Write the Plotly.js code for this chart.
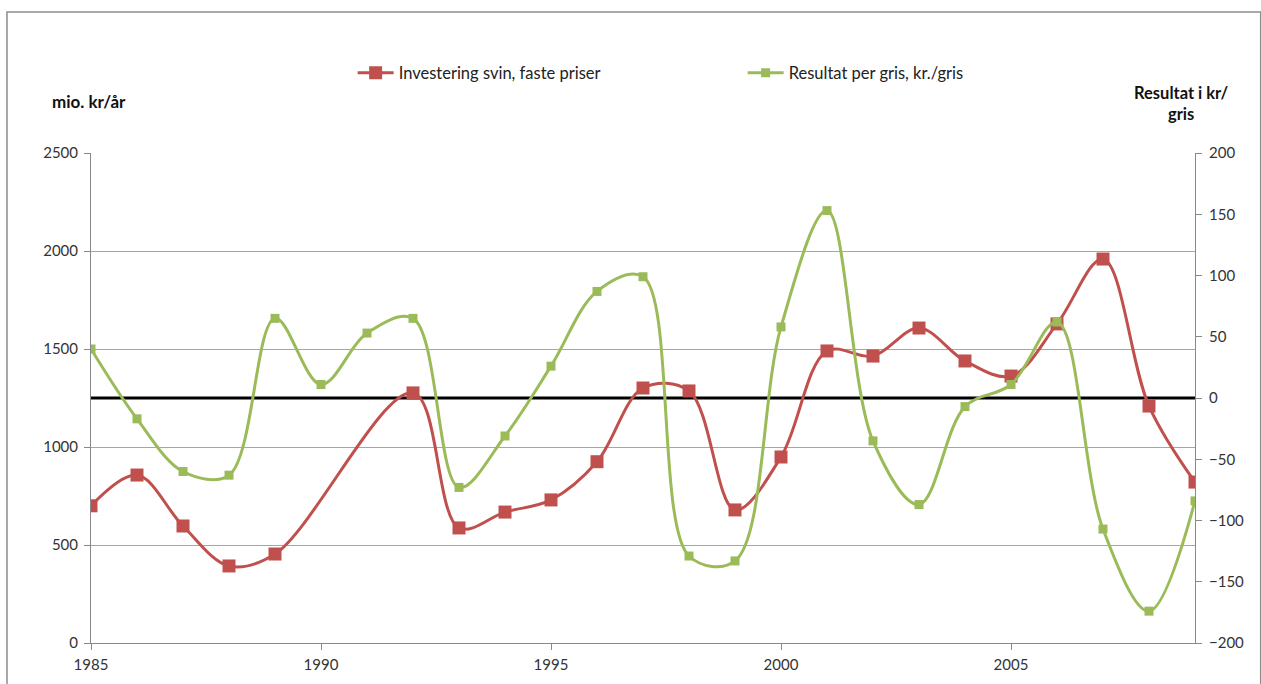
<!DOCTYPE html>
<html>
<head>
<meta charset="utf-8">
<script src="https://cdn.plot.ly/plotly-3.0.1.min.js"></script>
<style>html,body{margin:0;padding:0;background:#fff;}#chart{width:1261px;height:684px;}</style>
</head>
<body>
<div id="chart"></div>
<script>
const years = [1985,1986,1987,1988,1989,1990,1991,1992,1993,1994,1995,1996,1997,1998,1999,2000,2001,2002,2003,2004,2005,2006,2007,2008,2009];
const investering = [700,857,597,393,454,null,null,1276,587,668,730,925,1301,1286,679,949,1490,1464,1607,1439,1362,1628,1959,1209,821];
const resultat = [40,-17,-60,-63,65,11,53,65,-73,-31,26,87,99,-129,-133,58,153,-35,-87,-7,11,62,-107,-174,-84];
const xTicks = [1985,1990,1995,2000,2005];
const leftTicks = [0,500,1000,1500,2000,2500];
const rightTicks = [-200,-150,-100,-50,0,50,100,150,200];
const nameRed = "Investering svin, faste priser";
const nameGreen = "Resultat per gris, kr./gris";
const leftTitle = "mio. kr/år";
const rightTitle = "Resultat i kr/<br>gris";

const FONT = "Lato, 'Open Sans', sans-serif";
const traces = [
  {x: years, y: investering, name: nameRed, type: 'scatter', mode: 'lines+markers',
   connectgaps: true, line: {color: '#c0504d', width: 3, shape: 'spline', smoothing: 1},
   marker: {symbol: 'square', size: 13, color: '#c0504d'}, yaxis: 'y'},
  {x: years, y: resultat, name: nameGreen, type: 'scatter', mode: 'lines+markers',
   line: {color: '#9bbb59', width: 3, shape: 'spline', smoothing: 1},
   marker: {symbol: 'square', size: 9, color: '#9bbb59'}, yaxis: 'y2'}
];
const layout = {
  width: 1261, height: 684,
  margin: {l: 91, r: 66, t: 153, b: 41},
  paper_bgcolor: '#fff', plot_bgcolor: '#fff',
  font: {family: FONT, size: 15, color: '#333'},
  showlegend: true,
  legend: {orientation: 'h', x: 0.237, xanchor: 'left', y: 1.163, yanchor: 'middle',
           entrywidth: 339, entrywidthmode: 'pixels', font: {size: 16.5, color: '#222'},
           itemwidth: 36, bgcolor: 'rgba(0,0,0,0)'},
  xaxis: {range: [1985, 2009], tickvals: xTicks, ticktext: xTicks.map(String),
          showgrid: false, zeroline: false, showline: true, linecolor: '#888', linewidth: 1,
          ticks: 'outside', ticklen: 6, tickcolor: '#888', ticklabelstandoff: 2,
          tickfont: {size: 15, color: '#333'}},
  yaxis: {range: [0, 2500], tickvals: leftTicks, showgrid: true, gridcolor: '#a6a6a6', gridwidth: 1,
          zeroline: false, showline: true, linecolor: '#888', ticks: 'outside', ticklen: 6,
          tickcolor: '#888', ticklabelstandoff: 3, tickfont: {size: 15, color: '#333'}},
  yaxis2: {range: [-200, 200], tickvals: rightTicks, overlaying: 'y', side: 'right', showgrid: false,
           zeroline: false, showline: true, linecolor: '#888', ticks: 'outside', ticklen: 6,
           tickcolor: '#888', ticklabelstandoff: 4, tickfont: {size: 15, color: '#333'}},
  shapes: [
    {type: 'line', xref: 'x', yref: 'y2', x0: 1985, x1: 2009, y0: 0, y1: 0,
     line: {color: '#000', width: 3}, layer: 'below'},
    {type: 'rect', xref: 'paper', yref: 'paper', x0: -0.0761, x1: 1.0595, y0: -0.2, y1: 1.2878,
     line: {color: '#8c8c8c', width: 1.5}, layer: 'below'}
  ],
  annotations: [
    {text: '<b>' + leftTitle + '</b>', xref: 'paper', yref: 'paper', x: -0.0371, y: 1.106,
     xanchor: 'left', yanchor: 'middle', showarrow: false, font: {size: 17, color: '#111'}},
    {text: '<b>' + rightTitle + '</b>', xref: 'paper', yref: 'paper', x: 0.988, y: 1.1,
     xanchor: 'center', yanchor: 'middle', align: 'center', showarrow: false,
     font: {size: 16.5, color: '#111'}}
  ]
};
Plotly.newPlot('chart', traces, layout, {displayModeBar: false, staticPlot: true});
</script>
</body>
</html>
